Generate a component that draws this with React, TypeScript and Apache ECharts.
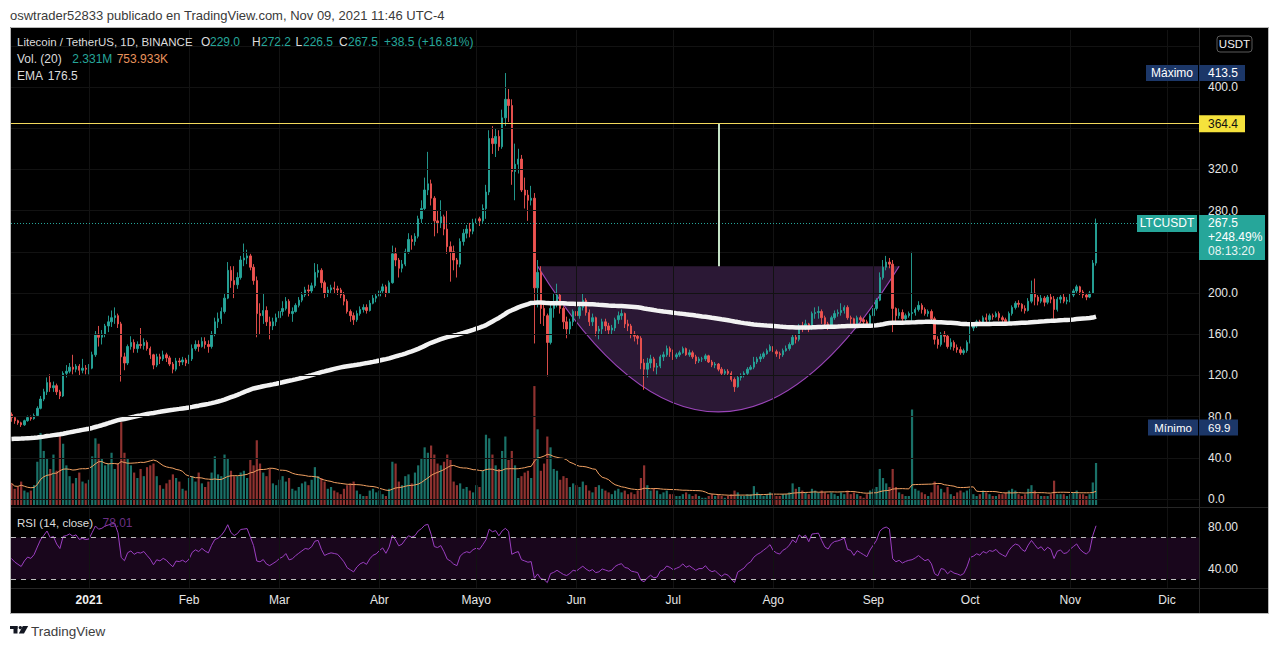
import React, { useEffect, useRef } from "react";
import * as echarts from "echarts";

// ---------- DATA (daily LTC/USDT candles, Dec 8 2020 -> Nov 9 2021) ----------
const START = Date.UTC(2020, 11, 8);
const DAY = 86400000;
const FIRST_OPEN = 82;

const closeDec = [79,76,74,72,76,79,78,81,88,97,104,113,108,110,104,100,122,124,128,126,129,125,127,126];
const highDec = [84,80,77,75,77,81,81,83,90,100,107,118,121,114,112,106,124,130,132,140,131,131,136,130];
const lowDec = [75,73,72,69.9,71,75,76,77,80,87,95,101,104,104,101,97,99,118,122,121,123,120,122,121];

const closeJan = [127,140,160,157,160,168,172,176,178,170,138,132,148,152,146,150,149,152,146,140,130,138,136,140,137,131,126,134,133,135,132];
const highJan = [131,143,163,168,164,170,178,183,186,180,172,142,150,158,155,153,166,156,154,148,141,141,141,144,142,139,133,137,137,138,137];
const lowJan = [121,126,138,148,150,157,162,167,170,166,114,125,130,145,142,142,146,145,144,136,126,128,131,134,133,129,122,124,129,130,129];

const closeFeb = [136,146,150,148,153,150,148,160,172,175,182,195,222,212,208,215,232,234,236,225,212,180,178,183,172,168,172,176];
const highFeb = [140,150,154,154,157,157,154,163,176,181,186,200,230,226,226,220,236,248,242,238,228,216,190,199,187,177,176,180];
const lowFeb = [131,134,144,143,147,146,142,146,158,166,170,180,194,205,195,204,213,226,228,222,208,157,160,170,168,155,164,168];

const closeMar = [182,185,192,180,182,188,193,198,203,202,207,220,222,210,200,203,205,204,203,198,192,182,178,174,180,184,186,183,190,195,197];
const highMar = [186,192,196,194,186,190,196,201,206,208,210,229,228,224,212,206,208,211,207,205,201,194,184,181,183,187,189,189,193,198,200];
const lowMar = [174,178,183,177,172,181,186,191,196,197,200,205,215,205,195,196,200,199,198,195,188,180,172,169,172,178,181,180,182,189,191];

const closeApr = [202,206,200,210,238,232,224,228,240,252,250,255,272,282,300,306,292,270,268,274,262,245,240,232,228,250,258,262,260,268];
const highApr = [204,209,208,212,246,244,234,232,243,258,256,258,275,290,312,337,310,294,280,290,276,280,250,246,234,253,262,266,268,272];
const lowApr = [195,200,196,199,209,226,215,220,226,238,242,246,253,268,280,295,285,255,258,263,256,238,211,222,215,225,246,253,254,257];

const closeMay = [272,270,282,298,350,345,352,342,370,388,382,318,325,330,300,295,290,292,205,220,185,178,152,185,190,198,185,172,165,172,182];
const highMay = [276,274,286,305,358,362,360,358,378,413.5,398,388,345,340,334,312,300,304,297,232,226,192,180,190,200,209,200,187,177,175,184];
const lowMay = [262,265,268,272,295,335,332,338,340,362,366,305,290,316,298,282,270,285,151,186,170,168,119,150,176,186,180,165,156,160,168];

const closeJun = [178,186,193,181,172,176,163,165,172,168,164,166,174,178,180,170,168,160,158,156,132,126,132,136,128,129,138,140,146,143];
const highJun = [186,190,199,195,184,180,177,168,175,175,171,169,176,182,184,181,174,170,163,160,158,136,137,140,138,132,140,143,149,148];
const lowJun = [172,175,183,178,168,168,158,155,160,163,160,160,163,170,174,166,163,156,153,150,126,106,118,127,124,121,127,134,138,138];

const closeJul = [138,140,142,146,140,142,138,134,136,136,139,133,130,131,126,122,124,122,116,109,118,120,122,126,128,133,136,138,141,144,148];
const highJul = [145,142,144,148,147,145,144,140,138,138,141,140,135,133,132,128,126,126,124,118,120,122,124,128,130,138,138,141,143,146,150];
const lowJul = [135,136,138,141,139,138,136,131,132,133,134,132,128,127,124,120,120,120,114,104,108,115,118,120,125,126,131,133,136,140,143];

const closeAug = [143,141,140,144,146,150,157,155,168,166,170,165,180,181,182,176,170,168,176,180,181,183,186,176,175,170,176,174,172,170,178];
const highAug = [150,145,143,146,149,152,160,160,170,172,174,171,182,186,187,184,178,172,178,183,184,190,188,188,178,176,178,178,176,174,180];
const lowAug = [140,138,136,138,143,144,149,151,153,162,164,162,164,175,175,170,166,164,166,174,177,178,180,174,170,168,168,171,169,167,168];

const closeSep = [185,193,215,225,230,228,185,178,181,175,178,180,181,184,188,184,180,182,175,155,150,160,158,148,152,147,145,142,144,152];
const highSep = [187,195,220,232,236,234,232,186,185,184,180,182,240,186,192,190,186,184,184,177,158,162,163,160,156,154,150,148,146,154];
const lowSep = [177,183,192,213,222,224,162,172,175,172,173,176,170,178,182,180,178,177,172,150,146,148,152,146,145,144,142,140,140,142];

const closeOct = [166,168,172,170,176,174,178,177,180,176,174,172,180,186,190,189,185,183,192,200,196,192,195,191,196,194,184,194,196,192,193];
const highOct = [168,170,174,174,178,180,180,180,182,182,178,176,182,188,192,193,190,188,195,212,214,198,198,197,198,199,197,196,198,199,196];
const lowOct = [151,163,166,168,168,170,172,174,176,173,170,168,171,178,184,186,182,180,182,190,188,188,190,187,189,190,175,182,190,190,189];

const closeNov = [198,202,206,201,198,196,200,229,267.5];
const highNov = [200,204,208,207,203,200,202,232,272.2];
const lowNov = [191,196,199,198,195,193,195,199,226.5];

// volume in millions of LTC
const volDec = [1.2,0.9,1.0,1.3,0.8,0.7,0.8,1.1,2.4,4.0,3.0,2.6,2.0,2.8,1.9,3.9,3.4,2.2,1.6,1.2,1.5,1.8,1.3,1.2];
const volJan = [1.4,2.7,3.7,3.4,2.6,2.2,2.3,2.9,2.0,2.3,4.6,2.9,2.6,2.2,1.8,1.5,2.0,1.6,2.1,2.2,2.3,1.6,1.1,0.9,1.2,1.4,1.7,1.5,1.3,0.9,0.8];
const volFeb = [1.5,1.6,1.3,1.8,1.2,1.0,1.3,1.8,2.7,1.7,1.6,2.8,2.6,1.9,1.6,1.6,1.8,1.9,1.5,2.5,2.2,3.6,2.3,1.8,1.6,2.0,1.2,1.1];
const volMar = [1.4,1.6,1.3,1.5,0.9,0.8,1.0,1.2,1.3,1.1,1.4,2.1,1.6,1.5,1.3,0.9,1.0,0.8,0.7,0.6,0.9,1.1,1.2,1.3,0.8,0.6,0.5,0.5,0.8,0.9,0.7];
const volApr = [0.8,0.6,0.5,0.9,2.4,2.3,1.3,1.1,1.6,1.7,1.2,1.8,2.2,2.6,3.2,2.9,3.3,2.8,2.3,2.2,2.4,2.8,2.5,1.3,1.1,1.2,0.9,1.0,0.8,0.7];
const volMay = [1.1,1.0,1.9,3.9,3.7,2.8,2.2,2.0,3.0,3.8,2.5,3.0,2.2,1.5,1.6,1.8,1.9,1.5,6.6,4.2,1.9,2.3,3.8,3.2,2.0,1.9,1.4,1.6,1.5,1.0,1.2];
const volJun = [1.1,1.0,1.3,1.1,0.8,0.7,1.0,1.1,0.9,0.8,0.7,0.6,0.8,0.9,0.7,0.8,0.6,0.7,0.6,0.8,1.5,2.2,1.1,0.8,0.9,0.8,0.6,0.7,0.8,0.6];
const volJul = [0.6,0.5,0.5,0.6,0.7,0.6,0.5,0.6,0.5,0.4,0.4,0.5,0.6,0.5,0.6,0.5,0.4,0.5,0.6,0.8,0.7,0.5,0.5,0.6,0.6,1.05,0.7,0.6,0.5,0.6,0.7];
const volAug = [0.6,0.5,0.5,0.6,0.6,0.7,1.2,0.9,1.0,0.8,0.7,0.6,0.9,0.8,0.7,0.8,0.7,0.6,0.7,0.6,0.5,0.7,0.6,0.8,0.6,0.7,0.6,0.5,0.4,0.6,0.8];
const volSep = [0.9,1.0,2.0,1.5,1.2,1.0,2.0,1.0,0.7,0.6,0.5,0.5,5.3,0.9,0.8,0.7,0.6,0.5,0.7,1.3,1.1,0.9,0.7,1.0,0.6,0.5,0.7,0.8,0.7,0.8];
const volOct = [0.9,0.6,0.5,0.6,0.8,0.7,0.6,0.5,0.5,0.6,0.6,0.7,0.8,0.9,0.8,0.6,0.5,0.6,0.9,1.1,0.8,0.6,0.5,0.5,0.5,0.6,1.35,0.6,0.6,0.6,0.5];
const volNov = [0.6,0.7,0.8,0.6,0.6,0.5,0.6,1.25,2.331];

// indicator settings / seeds
const EMA_LEN = 200;
const EMA_SEED = 58;
const RSI_LEN = 14;
const RSI_SEED_AVG = 1.6; // equal avg gain/loss -> RSI starts near 50 as in the picture
const VOL_MA_LEN = 20;

// annotations
const RESISTANCE = 364.4;
const LAST_PRICE = 267.5;
const CUP_START = Date.UTC(2021, 4, 20);
const CUP_END = Date.UTC(2021, 8, 9);
const CUP_TOP = 226;
const CUP_BOTTOM = 84.5;
const TARGET_DATE = Date.UTC(2021, 6, 15);
const MAX_PRICE = 413.5;
const MIN_PRICE = 69.9;

// axes
const MONTH_LABELS = ["2021", "Feb", "Mar", "Abr", "Mayo", "Jun", "Jul", "Ago", "Sep", "Oct", "Nov", "Dic"];
const PRICE_TICKS = [0, 40, 80, 120, 160, 200, 280, 320, 400];
const PRICE_GRID = [0, 40, 80, 120, 160, 200, 240, 280, 320, 360, 400, 440];
const RSI_TICKS = [40, 80];

// ---------- derived ----------
const dayOf = (t: number) => (t - START) / DAY;
const MONTH_TICKS = MONTH_LABELS.map((_, m) => dayOf(Date.UTC(2021, m, 1)));

const closes = [...closeDec, ...closeJan, ...closeFeb, ...closeMar, ...closeApr, ...closeMay, ...closeJun, ...closeJul, ...closeAug, ...closeSep, ...closeOct, ...closeNov];
const highs = [...highDec, ...highJan, ...highFeb, ...highMar, ...highApr, ...highMay, ...highJun, ...highJul, ...highAug, ...highSep, ...highOct, ...highNov];
const lows = [...lowDec, ...lowJan, ...lowFeb, ...lowMar, ...lowApr, ...lowMay, ...lowJun, ...lowJul, ...lowAug, ...lowSep, ...lowOct, ...lowNov];
const vols = [...volDec, ...volJan, ...volFeb, ...volMar, ...volApr, ...volMay, ...volJun, ...volJul, ...volAug, ...volSep, ...volOct, ...volNov];
const N = closes.length;
const opens = closes.map((_, i) => (i === 0 ? FIRST_OPEN : closes[i - 1]));
const xs = closes.map((_, i) => i);

const ema: number[] = [];
{
  const a = 2 / (EMA_LEN + 1);
  let e = EMA_SEED;
  for (let i = 0; i < N; i++) {
    e = e + a * (closes[i] - e);
    ema.push(e);
  }
}
const volMa: number[] = vols.map((_, i) => {
  const s = Math.max(0, i - VOL_MA_LEN + 1);
  const arr = vols.slice(s, i + 1);
  return arr.reduce((p, c) => p + c, 0) / arr.length;
});
const rsi: (number | null)[] = [50];
{
  let ag = RSI_SEED_AVG, al = RSI_SEED_AVG;
  for (let i = 1; i < N; i++) {
    const ch = closes[i] - closes[i - 1];
    const g = Math.max(ch, 0), l = Math.max(-ch, 0);
    ag = (ag * (RSI_LEN - 1) + g) / RSI_LEN;
    al = (al * (RSI_LEN - 1) + l) / RSI_LEN;
    rsi.push(al === 0 ? 100 : 100 - 100 / (1 + ag / al));
  }
}

const FONT = '"Liberation Sans", Arial, sans-serif';
const UP = "#26a69a";
const DOWN = "#ef5350";
const GRIDLINE = "#121212";
const X_MIN = -0.15;
const X_MAX = 367.9;

function monthLabel(v: number): string {
  const idx = MONTH_TICKS.findIndex((d) => Math.abs(d - v) < 0.01);
  if (idx < 0) return "";
  return idx === 0 ? "{b|" + MONTH_LABELS[0] + "}" : MONTH_LABELS[idx];
}

function buildOption(): any {
  const candles = xs.map((x, i) => [x, opens[i], closes[i], lows[i], highs[i]]);
  const volData = xs.map((x, i) => ({
    value: [x, vols[i]],
    itemStyle: { color: closes[i] >= opens[i] ? "rgba(38,166,154,0.68)" : "rgba(239,83,80,0.6)" },
  }));
  const gridLinesMain = [
    ...MONTH_TICKS.map((d) => ({ xAxis: d })),
    ...PRICE_GRID.map((p) => ({ yAxis: p })),
  ];
  return {
    animation: false,
    backgroundColor: "#000000",
    textStyle: { fontFamily: FONT },
    grid: [
      { left: 11, top: 30, width: 1188, height: 477 },
      { left: 11, top: 508, width: 1188, height: 80 },
    ],
    xAxis: [
      {
        type: "value", gridIndex: 0, min: X_MIN, max: X_MAX,
        axisLabel: { show: false }, axisLine: { show: false }, axisTick: { show: false },
        splitLine: { show: false },
      },
      {
        type: "value", gridIndex: 1, min: X_MIN, max: X_MAX,
        axisLine: { show: false }, axisTick: { show: false }, splitLine: { show: false },
        axisLabel: {
          customValues: MONTH_TICKS,
          margin: 6,
          color: "#e6e6e6",
          fontSize: 12,
          fontFamily: FONT,
          hideOverlap: false,
          formatter: (v: number) => monthLabel(v),
          rich: { b: { fontWeight: "bold", fontSize: 12, color: "#f0f0f0", fontFamily: FONT } },
        },
      },
    ],
    yAxis: [
      {
        type: "value", gridIndex: 0, position: "right", min: -7.77, max: 455.3,
        axisLine: { show: false }, axisTick: { show: false }, splitLine: { show: false },
        axisLabel: {
          customValues: PRICE_TICKS, margin: 9, color: "#e6e6e6", fontSize: 12, fontFamily: FONT,
          formatter: (v: number) => v.toFixed(1), hideOverlap: false,
        },
      },
      { type: "value", gridIndex: 0, min: -0.111, max: 26.36, show: false },
      {
        type: "value", gridIndex: 1, position: "right", min: 21.9, max: 98.1,
        axisLine: { show: false }, axisTick: { show: false }, splitLine: { show: false },
        axisLabel: {
          customValues: RSI_TICKS, margin: 9, color: "#e6e6e6", fontSize: 12, fontFamily: FONT,
          formatter: (v: number) => v.toFixed(2),
        },
      },
    ],
    series: [
      {
        // faint chart grid (month & price lines) in the main pane
        type: "line", xAxisIndex: 0, yAxisIndex: 0, z: 0, silent: true, data: [],
        markLine: {
          silent: true, symbol: ["none", "none"], label: { show: false },
          lineStyle: { color: GRIDLINE, width: 1, type: "solid" },
          data: gridLinesMain,
        },
      },
      {
        type: "line", xAxisIndex: 1, yAxisIndex: 2, z: 0, silent: true, data: [],
        markLine: {
          silent: true, symbol: ["none", "none"], label: { show: false },
          lineStyle: { color: GRIDLINE, width: 1, type: "solid" },
          data: MONTH_TICKS.map((d) => ({ xAxis: d })),
        },
      },
      {
        type: "custom", xAxisIndex: 0, yAxisIndex: 0, z: 1, silent: true,
        encode: { x: [0, 1], y: [2, 3] },
        data: [[dayOf(CUP_START), dayOf(CUP_END), CUP_TOP, CUP_BOTTOM]],
        renderItem: (params: any, api: any) => {
          const p0 = api.coord([api.value(0), api.value(2)]);
          const p2 = api.coord([api.value(1), api.value(2)]);
          const pb = api.coord([(api.value(0) + api.value(1)) / 2, api.value(3)]);
          const cx = pb[0];
          const cy = 2 * pb[1] - p0[1];
          const d = `M${p0[0]} ${p0[1]} Q${cx} ${cy} ${p2[0]} ${p2[1]}`;
          return {
            type: "group",
            children: [
              { type: "path", shape: { pathData: d + " Z" }, style: { fill: "rgba(155,85,190,0.28)", stroke: "none" } },
              { type: "path", shape: { pathData: d }, style: { fill: "none", stroke: "#9b45b9", lineWidth: 1.2 } },
            ],
          };
        },
      },
      {
        name: "vol", type: "bar", xAxisIndex: 0, yAxisIndex: 1, z: 1, silent: true,
        barWidth: 2.2, data: volData,
      },
      {
        name: "volma", type: "line", xAxisIndex: 0, yAxisIndex: 1, z: 2, silent: true,
        showSymbol: false, symbol: "none",
        lineStyle: { color: "#f0a062", width: 1 },
        data: xs.map((x, i) => [x, volMa[i]]),
      },
      {
        name: "LTC", type: "candlestick", xAxisIndex: 0, yAxisIndex: 0, z: 3, silent: true,
        encode: { x: 0, y: [1, 2, 3, 4] },
        barWidth: 1.9, barMaxWidth: 1.9,
        itemStyle: { color: UP, color0: DOWN, borderColor: UP, borderColor0: DOWN, borderWidth: 0.9 },
        data: candles,
        markLine: {
          silent: true, symbol: ["none", "none"], label: { show: false }, animation: false,
          data: [
            { yAxis: RESISTANCE, lineStyle: { color: "#f2d95c", width: 1, type: "solid" } },
            { yAxis: LAST_PRICE, lineStyle: { color: UP, width: 1, type: [1, 2] } },
            [
              { coord: [dayOf(TARGET_DATE), RESISTANCE], lineStyle: { color: "#c5e3c6", width: 2, type: "solid" } },
              { coord: [dayOf(TARGET_DATE), CUP_TOP] },
            ],
          ],
        },
      },
      {
        name: "EMA", type: "line", xAxisIndex: 0, yAxisIndex: 0, z: 4, silent: true,
        showSymbol: false, symbol: "none",
        lineStyle: { color: "#f2f2f2", width: 4.5 },
        data: xs.map((x, i) => [x, ema[i]]),
      },
      {
        name: "RSI", type: "line", xAxisIndex: 1, yAxisIndex: 2, z: 3, silent: true,
        showSymbol: false, symbol: "none",
        lineStyle: { color: "#9b3fc1", width: 1 },
        data: xs.map((x, i) => [x, rsi[i]]),
        markArea: {
          silent: true,
          itemStyle: { color: "rgba(156,39,176,0.16)" },
          data: [[{ yAxis: 30 }, { yAxis: 70 }]],
        },
        markLine: {
          silent: true, symbol: ["none", "none"], label: { show: false },
          lineStyle: { color: "#bdbdbd", width: 1, type: [5, 5] },
          data: [{ yAxis: 70 }, { yAxis: 30 }],
        },
      },
    ],
  };
}

function T(x: number, y: number, text: string, fill: string, extra: any = {}) {
  return {
    type: "text", x, y, z: 60, silent: true,
    style: { text, fill, fontFamily: FONT, fontSize: 12, verticalAlign: "middle", align: "left", ...extra },
  };
}
function R(x: number, y: number, w: number, h: number, fill: string, extra: any = {}) {
  return {
    type: "rect", z: 55, silent: true,
    shape: { x, y, width: w, height: h, r: extra.r || 0 },
    style: { fill, stroke: extra.stroke || null, lineWidth: extra.lw || 0 },
  };
}
function L(x1: number, y1: number, x2: number, y2: number, color: string) {
  return { type: "line", z: 54, silent: true, shape: { x1, y1, x2, y2 }, style: { stroke: color, lineWidth: 1 } };
}

function buildGraphic(py: (p: number) => number): any[] {
  const els: any[] = [];
  els.push(R(0, 0, 1279, 27, "#ffffff"));
  els.push(R(0, 613.5, 1279, 40, "#ffffff"));
  els.push(R(0, 0, 10, 649, "#ffffff"));
  els.push(R(1268.5, 0, 12, 649, "#ffffff"));
  els.push({ type: "rect", z: 56, silent: true, shape: { x: 10.5, y: 27.5, width: 1258, height: 586 }, style: { fill: "none", stroke: "#b8b8b8", lineWidth: 1 } });
  els.push(L(11, 507.5, 1268, 507.5, "#262626"));
  els.push(L(11, 588.5, 1268, 588.5, "#262626"));
  els.push(L(1199.5, 28, 1199.5, 613, "#262626"));

  els.push(T(10, 15, "oswtrader52833 publicado en TradingView.com, Nov 09, 2021 11:46 UTC-4", "#3a3a3a", { fontSize: 13 }));
  els.push(R(10, 626, 7.5, 3, "#131722"));
  els.push(R(13.5, 626, 4, 7.5, "#131722"));
  els.push({ type: "circle", z: 60, silent: true, shape: { cx: 20.3, cy: 627.6, r: 1.7 }, style: { fill: "#131722" } });
  els.push({ type: "polygon", z: 60, silent: true, shape: { points: [[22.8, 626], [28.2, 626], [24, 633.5], [18.8, 633.5]] }, style: { fill: "#131722" } });
  els.push(T(31, 631, "TradingView", "#3d3d3d", { fontSize: 13.5 }));

  const W = "#dcdcdc";
  els.push(T(17, 42, "Litecoin / TetherUS, 1D, BINANCE", W, { fontSize: 11.5 }));
  els.push(T(201, 42, "O", W));
  els.push(T(210, 42, "229.0", UP));
  els.push(T(252, 42, "H", W));
  els.push(T(261, 42, "272.2", UP));
  els.push(T(295.5, 42, "L", W));
  els.push(T(303, 42, "226.5", UP));
  els.push(T(339, 42, "C", W));
  els.push(T(348, 42, "267.5", UP));
  els.push(T(384, 42, "+38.5 (+16.81%)", UP));
  els.push(T(17, 59, "Vol. (20)", W));
  els.push(T(72.3, 59, "2.331M", UP));
  els.push(T(116.7, 59, "753.933K", "#e8935c"));
  els.push(T(17, 76, "EMA", W));
  els.push(T(47.7, 76, "176.5", W));
  els.push(T(17, 522.5, "RSI (14, close)", W, { fontSize: 11.5 }));
  els.push(T(102.5, 522.5, "78.01", "#6a2f82"));

  const NAVY = "#1c3768";
  els.push(R(1217, 36, 35, 16, "#000000", { r: 3, stroke: "#5a5a5a", lw: 1 }));
  els.push(T(1234.5, 44, "USDT", "#f0f0f0", { align: "center", fontSize: 11.5 }));

  const yMax = py(MAX_PRICE);
  els.push(R(1146, yMax - 8, 52, 16, NAVY));
  els.push(T(1172, yMax, "Máximo", "#ffffff", { align: "center" }));
  els.push(R(1199, yMax - 8, 46, 16, NAVY));
  els.push(T(1208, yMax, MAX_PRICE.toFixed(1), "#ffffff"));

  const yRes = py(RESISTANCE);
  els.push(R(1199, yRes - 8.5, 46, 17, "#f5e23c"));
  els.push(T(1208, yRes, RESISTANCE.toFixed(1), "#111111"));

  const yLast = py(LAST_PRICE);
  els.push(R(1137, yLast - 8.5, 60, 17, UP));
  els.push(T(1167, yLast, "LTCUSDT", "#ffffff", { align: "center" }));
  els.push(R(1199, yLast - 8.5, 66, 45, UP));
  els.push(T(1208, yLast, LAST_PRICE.toFixed(1), "#ffffff"));
  els.push(T(1208, yLast + 14, "+248.49%", "#ffffff"));
  els.push(T(1208, yLast + 28, "08:13:20", "#e8f5f3"));

  const yMin = py(MIN_PRICE);
  els.push(R(1148, yMin - 7.5, 50, 16, NAVY));
  els.push(T(1173, yMin + 1, "Mínimo", "#ffffff", { align: "center", fontSize: 11.5 }));
  els.push(R(1199, yMin - 7.5, 39, 16, NAVY));
  els.push(T(1208, yMin + 1, MIN_PRICE.toFixed(1), "#ffffff", { fontSize: 11.5 }));
  return els;
}

export default function App() {
  const ref = useRef<HTMLDivElement>(null);
  useEffect(() => {
    if (!ref.current) return;
    const chart = echarts.init(ref.current, null, { renderer: "svg" });
    chart.setOption(buildOption());
    const py = (p: number) => chart.convertToPixel({ yAxisIndex: 0 } as any, p) as unknown as number;
    chart.setOption({ graphic: buildGraphic(py) });
    return () => chart.dispose();
  }, []);
  return <div ref={ref} style={{ position: "fixed", left: 0, top: 0, width: 1279, height: 649 }} />;
}
